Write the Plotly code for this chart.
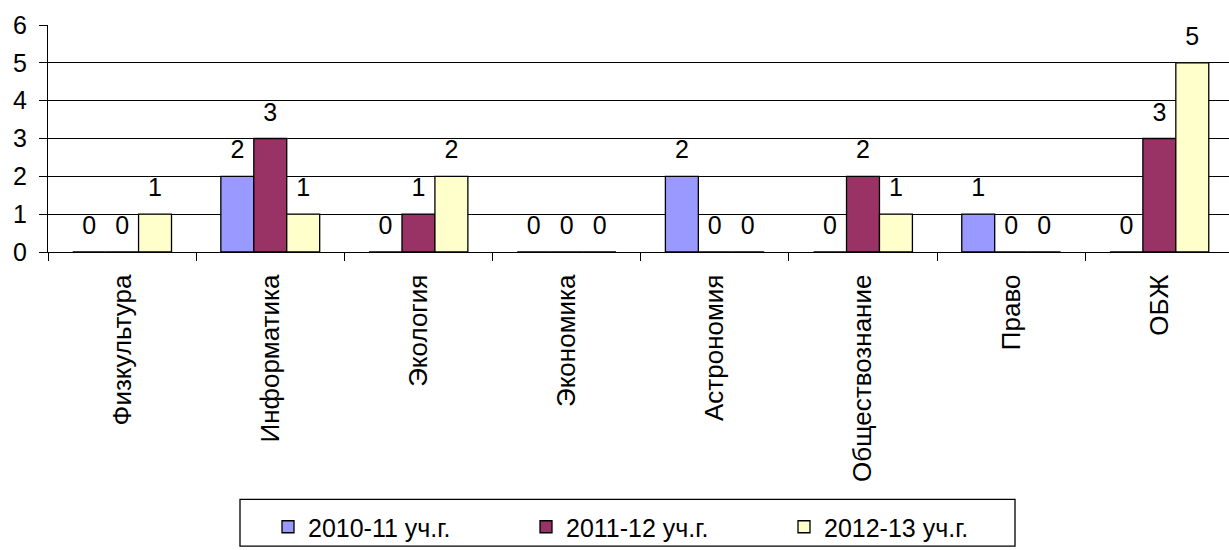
import plotly.graph_objects as go

categories = ["Физкультура", "Информатика", "Экология", "Экономика",
              "Астрономия", "Обществознание", "Право", "ОБЖ"]
series_names = ["2010-11 уч.г.", "2011-12 уч.г.", "2012-13 уч.г."]
values_2010 = [0, 2, 0, 0, 2, 0, 1, 0]
values_2011 = [0, 3, 1, 0, 0, 2, 0, 3]
values_2012 = [1, 1, 2, 0, 0, 1, 0, 5]
colors = ["#9999FF", "#993366", "#FFFFCC"]

FONT = "Liberation Sans, Arial, sans-serif"
W, H = 1229, 550
L, T, B, R = 48, 25, 292, 0
pw = W - L - R
ph = H - T - B

fig = go.Figure()
all_vals = [values_2010, values_2011, values_2012]
for name, vals, col in zip(series_names, all_vals, colors):
    fig.add_trace(go.Bar(
        x=categories, y=vals, name=name,
        marker=dict(color=col, line=dict(color="black", width=1.3)),
        hoverinfo="skip",
    ))
for name, vals in zip(series_names, all_vals):
    fig.add_trace(go.Scatter(
        x=categories, y=vals, mode="markers+text",
        text=[str(v) for v in vals], textposition="top center",
        textfont=dict(family=FONT, size=25, color="black"),
        marker=dict(size=17, opacity=0),
        showlegend=False, hoverinfo="skip", cliponaxis=False,
    ))

def px_x(px):
    return (px - L) / pw

def px_y(py):
    return (H - B - py) / ph

fig.add_shape(type="rect", xref="paper", yref="paper",
              x0=px_x(240), x1=px_x(1015), y0=px_y(512), y1=px_y(560),
              line=dict(color="black", width=1.3), fillcolor="rgba(0,0,0,0)")

fig.update_layout(
    width=W, height=H,
    margin=dict(l=L, r=R, t=T, b=B, pad=0),
    paper_bgcolor="white", plot_bgcolor="white",
    barmode="group", bargap=0.333, bargroupgap=0,
    scattermode="group", scattergap=0.333,
    font=dict(family=FONT, size=24, color="black"),
    showlegend=True,
    legend=dict(orientation="h", xanchor="left", yanchor="top",
                x=px_x(268), y=px_y(517),
                entrywidth=213, entrywidthmode="pixels",
                font=dict(family=FONT, size=25, color="black"),
                bgcolor="rgba(0,0,0,0)", borderwidth=0,
                traceorder="normal"),
)
fig.update_xaxes(
    type="category", range=[-0.5, 7.47],
    tickangle=-90, tickson="boundaries", ticks="outside", ticklen=8,
    tickcolor="black", tickwidth=1,
    showline=True, linecolor="black", linewidth=1.3,
    tickfont=dict(family=FONT, size=26, color="black"),
    ticklabelstandoff=11, showgrid=False, fixedrange=True,
)
fig.update_yaxes(
    range=[0, 6], dtick=1, tick0=0, ticks="outside", ticklen=8,
    tickcolor="black", tickwidth=1,
    showline=True, linecolor="black", linewidth=1.3,
    showgrid=True, gridcolor="black", gridwidth=1,
    zeroline=False,
    tickfont=dict(family=FONT, size=25, color="black"),
    ticklabelstandoff=7, fixedrange=True,
)

fig.write_html(
    "out.html",
    config={"displayModeBar": False},
    post_script="document.body.style.margin='0';document.body.style.overflow='hidden';",
)
